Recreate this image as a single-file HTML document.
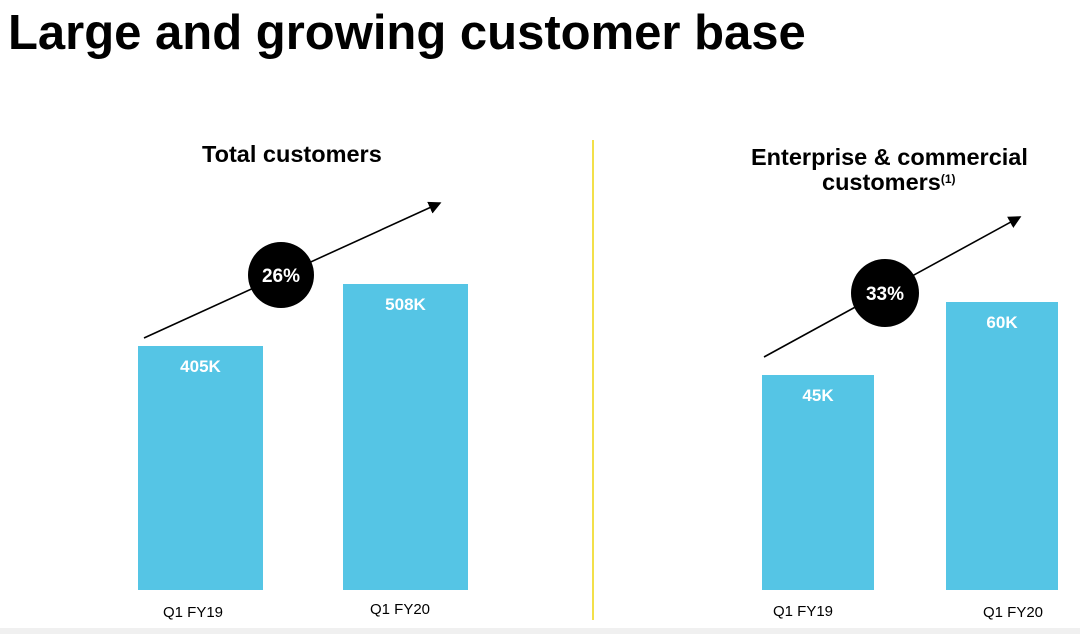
<!DOCTYPE html>
<html><head><style>
body{margin:0;width:1080px;height:634px;background:#fff;overflow:hidden;position:relative;font-family:"Liberation Sans",Arial,sans-serif}
.t{position:absolute;white-space:nowrap}
.bar{position:absolute;background:#55c5e5}
.bl{position:absolute;color:#fff;font-weight:bold;font-size:17px;text-align:center;width:100%;top:11px}
</style></head><body>
<div class="t" style="left:8px;top:5px;font-size:49px;font-weight:bold;color:#000">Large and growing customer base</div>
<div class="t" style="left:202px;top:141px;font-size:23.5px;font-weight:bold">Total customers</div>
<div class="t" style="left:751px;top:144px;font-size:23.5px;font-weight:bold">Enterprise &amp; commercial</div>
<div class="t" style="left:822px;top:169px;font-size:23.5px;font-weight:bold">customers<span style="font-size:12px;vertical-align:7px">(1)</span></div>
<div style="position:absolute;left:592px;top:140px;width:2px;height:480px;background:#f3e04a"></div>
<div class="bar" style="left:138px;top:346px;width:125px;height:244px"><div class="bl">405K</div></div>
<div class="bar" style="left:343px;top:284px;width:125px;height:306px"><div class="bl">508K</div></div>
<div class="bar" style="left:762px;top:375px;width:112px;height:215px"><div class="bl">45K</div></div>
<div class="bar" style="left:946px;top:302px;width:112px;height:288px"><div class="bl">60K</div></div>
<svg style="position:absolute;left:0;top:0" width="1080" height="634">
<defs><marker id="a" markerWidth="8" markerHeight="8" refX="7" refY="4" orient="auto"><path d="M0,0 L8,4 L0,8 z" fill="#000"/></marker></defs>
<line x1="144" y1="338" x2="440" y2="203" stroke="#000" stroke-width="1.6" marker-end="url(#a)"/>
<line x1="764" y1="357" x2="1020" y2="217" stroke="#000" stroke-width="1.6" marker-end="url(#a)"/>
<circle cx="281" cy="275" r="33" fill="#000"/>
<circle cx="885" cy="293" r="34" fill="#000"/>
<text x="281" y="282" fill="#fff" font-size="19" font-weight="bold" text-anchor="middle" font-family="Liberation Sans">26%</text>
<text x="885" y="300" fill="#fff" font-size="19" font-weight="bold" text-anchor="middle" font-family="Liberation Sans">33%</text>
</svg>
<div class="t" style="left:163px;top:604px;font-size:15px">Q1 FY19</div>
<div class="t" style="left:370px;top:601px;font-size:15px">Q1 FY20</div>
<div class="t" style="left:773px;top:603px;font-size:15px">Q1 FY19</div>
<div class="t" style="left:983px;top:604px;font-size:15px">Q1 FY20</div>
<div style="position:absolute;left:0;top:628px;width:1080px;height:6px;background:#f0f0f0"></div>
</body></html>
